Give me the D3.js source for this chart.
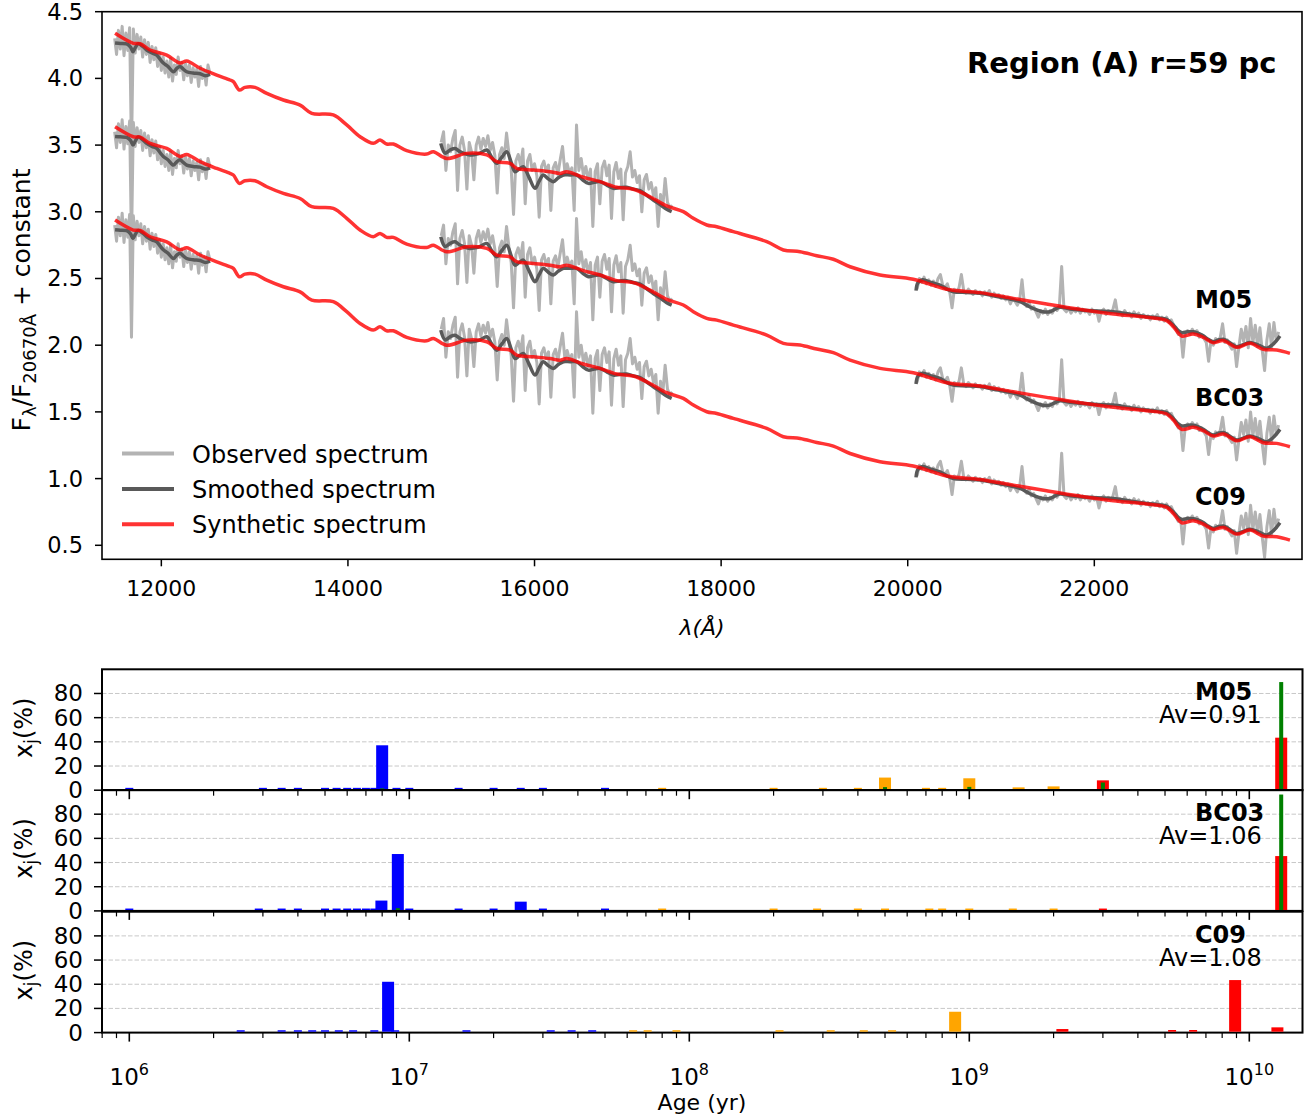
<!DOCTYPE html>
<html><head><meta charset="utf-8">
<script src="https://cdn.jsdelivr.net/npm/d3@7"></script>
<style>body{margin:0;background:#fff} svg{display:block} text{font-family:"DejaVu Sans",sans-serif;fill:#000}</style>
</head><body><svg id="c" width="1311" height="1120"></svg>
<script>
// ---------------- DATA ----------------
const modelNames = ["M05", "BC03", "C09"];
const modelOffsets = [0, -0.7, -1.4];          // "+ constant" shifts
const avLabels = ["Av=0.91", "Av=1.06", "Av=1.08"];
const specXTicks = [12000, 14000, 16000, 18000, 20000, 22000];
const specYTicks = [0.5, 1.0, 1.5, 2.0, 2.5, 3.0, 3.5, 4.0, 4.5];
const barYTicks = [0, 20, 40, 60, 80];
const ageDecades = [1e6, 1e7, 1e8, 1e9, 1e10];
const legendLabels = ["Observed spectrum", "Smoothed spectrum", "Synthetic spectrum"];

// observed spectrum (M05 level), [lambda, flux]
const obsJ = [[11500,4.30],[11520,4.18],[11540,4.36],[11560,4.22],[11580,4.39],[11600,4.17],[11620,4.34],[11640,4.21],[11660,4.38],[11680,3.46],[11700,4.37],[11720,4.19],[11740,4.33],[11760,4.22],[11780,4.31],[11800,4.16],[11820,4.29],[11840,4.18],[11860,4.27],[11880,4.12],[11900,4.24],[11920,4.14],[11940,4.23],[11960,4.09],[11980,4.19],[12000,4.06],[12020,4.16],[12040,4.04],[12060,4.13],[12080,4.01],[12100,4.15],[12120,3.98],[12140,4.10],[12160,4.03],[12180,4.16],[12200,4.06],[12220,4.12],[12240,3.99],[12260,4.11],[12280,4.02],[12300,4.10],[12320,3.97],[12340,4.08],[12360,4.01],[12380,4.07],[12400,3.94],[12420,4.09],[12440,4.00],[12460,4.06],[12480,3.95],[12500,4.10],[12520,4.04]];
const obsH = [[15000,3.52],[15025,3.60],[15050,3.31],[15075,3.50],[15100,3.45],[15125,3.55],[15150,3.61],[15175,3.16],[15200,3.50],[15225,3.56],[15250,3.46],[15275,3.17],[15300,3.52],[15325,3.45],[15350,3.24],[15375,3.50],[15400,3.56],[15425,3.47],[15450,3.55],[15475,3.49],[15500,3.57],[15525,3.46],[15550,3.52],[15575,3.42],[15600,3.14],[15625,3.43],[15650,3.48],[15675,3.40],[15700,3.59],[15725,3.44],[15750,3.32],[15775,2.98],[15800,3.38],[15825,3.43],[15850,3.35],[15875,3.47],[15900,3.06],[15925,3.38],[15950,3.43],[15975,3.31],[16000,3.36],[16025,3.27],[16050,2.96],[16075,3.34],[16100,3.38],[16125,3.30],[16150,3.35],[16175,3.01],[16200,3.33],[16225,3.37],[16250,3.28],[16275,3.39],[16300,3.49],[16325,3.30],[16350,3.36],[16375,3.29],[16400,3.33],[16425,3.01],[16450,3.65],[16475,3.31],[16500,3.40],[16525,3.27],[16550,3.34],[16575,3.24],[16600,3.32],[16625,2.89],[16650,3.30],[16675,3.36],[16700,3.06],[16725,3.33],[16750,3.38],[16775,3.27],[16800,3.35],[16825,2.95],[16850,3.30],[16875,3.37],[16900,3.25],[16925,3.32],[16950,2.94],[16975,3.29],[17000,3.34],[17025,3.45],[17050,3.26],[17075,3.31],[17100,3.22],[17125,3.27],[17150,3.00],[17175,3.24],[17200,3.28],[17225,3.17],[17250,3.22],[17275,3.12],[17300,3.18],[17325,2.89],[17350,3.13],[17375,3.04],[17400,3.25],[17425,3.07],[17450,3.03],[17475,3.05]];
const obsK = [[20100,2.42],[20125,2.50],[20150,2.47],[20175,2.51],[20200,2.46],[20225,2.49],[20250,2.45],[20275,2.48],[20300,2.44],[20325,2.50],[20350,2.53],[20375,2.45],[20400,2.43],[20425,2.46],[20450,2.40],[20475,2.28],[20500,2.42],[20525,2.40],[20550,2.43],[20575,2.53],[20600,2.41],[20625,2.39],[20650,2.42],[20675,2.40],[20700,2.38],[20725,2.41],[20750,2.39],[20775,2.40],[20800,2.37],[20825,2.40],[20850,2.38],[20875,2.41],[20900,2.36],[20925,2.39],[20950,2.37],[20975,2.38],[21000,2.35],[21025,2.37],[21050,2.34],[21075,2.36],[21100,2.31],[21125,2.35],[21150,2.33],[21175,2.30],[21200,2.34],[21225,2.49],[21250,2.31],[21275,2.29],[21300,2.32],[21325,2.27],[21350,2.29],[21375,2.25],[21400,2.21],[21425,2.26],[21450,2.24],[21475,2.27],[21500,2.23],[21525,2.26],[21550,2.24],[21575,2.28],[21600,2.26],[21625,2.29],[21650,2.59],[21675,2.27],[21700,2.25],[21725,2.28],[21750,2.24],[21775,2.27],[21800,2.25],[21825,2.28],[21850,2.24],[21875,2.27],[21900,2.25],[21925,2.26],[21950,2.23],[21975,2.27],[22000,2.24],[22025,2.26],[22050,2.18],[22075,2.25],[22100,2.27],[22125,2.23],[22150,2.26],[22175,2.24],[22200,2.27],[22225,2.34],[22250,2.23],[22275,2.25],[22300,2.22],[22325,2.26],[22350,2.23],[22375,2.24],[22400,2.21],[22425,2.25],[22450,2.22],[22475,2.24],[22500,2.20],[22525,2.23],[22550,2.21],[22575,2.22],[22600,2.19],[22625,2.22],[22650,2.20],[22675,2.23],[22700,2.19],[22725,2.21],[22750,2.18],[22775,2.21],[22800,2.17],[22825,2.19],[22850,2.15],[22875,2.12],[22900,2.08],[22925,2.10],[22950,1.91],[22975,2.09],[23000,2.11],[23025,2.08],[23050,2.12],[23075,2.09],[23100,2.11],[23125,2.06],[23150,2.08],[23175,2.05],[23200,2.02],[23225,1.88],[23250,2.03],[23275,2.00],[23300,2.05],[23325,2.03],[23350,2.06],[23375,2.16],[23400,2.02],[23425,2.04],[23450,2.00],[23475,1.97],[23500,2.01],[23525,1.84],[23550,1.99],[23575,2.12],[23600,2.03],[23625,2.14],[23650,1.98],[23675,2.20],[23700,2.02],[23725,2.15],[23750,1.99],[23775,2.13],[23800,1.96],[23825,1.81],[23850,2.04],[23875,2.16],[23900,1.98],[23925,2.17],[23950,2.03],[23975,2.10]];

// smoothed spectrum (M05 level)
const smoothJ = [[11504,4.265],[11560,4.262],[11629,4.258],[11670,4.235],[11696,4.20],[11720,4.23],[11753,4.26],[11800,4.24],[11843,4.213],[11900,4.19],[11951,4.175],[11990,4.14],[12021,4.115],[12070,4.09],[12129,4.05],[12165,4.075],[12200,4.09],[12235,4.07],[12272,4.05],[12340,4.04],[12415,4.035],[12470,4.02],[12522,4.03]];
const smoothH = [[14995,3.513],[15041,3.44],[15094,3.463],[15148,3.475],[15190,3.455],[15237,3.44],[15309,3.425],[15360,3.43],[15416,3.44],[15488,3.463],[15540,3.41],[15595,3.363],[15650,3.41],[15702,3.45],[15750,3.37],[15791,3.30],[15835,3.32],[15880,3.338],[15940,3.26],[16005,3.176],[16050,3.23],[16094,3.276],[16150,3.245],[16201,3.226],[16255,3.255],[16309,3.276],[16380,3.276],[16452,3.276],[16515,3.24],[16577,3.213],[16640,3.222],[16702,3.226],[16775,3.20],[16845,3.176],[16915,3.182],[16988,3.184],[17060,3.17],[17131,3.158],[17200,3.125],[17273,3.088],[17345,3.055],[17417,3.019],[17470,3.001]];
const smoothK = [[20089,2.409],[20110,2.469],[20160,2.49],[20250,2.47],[20346,2.451],[20420,2.42],[20488,2.401],[20630,2.395],[20775,2.39],[20920,2.37],[21061,2.351],[21204,2.326],[21300,2.29],[21383,2.264],[21450,2.25],[21525,2.251],[21580,2.27],[21632,2.284],[21740,2.272],[21847,2.264],[22030,2.256],[22204,2.251],[22380,2.232],[22561,2.214],[22680,2.204],[22776,2.194],[22847,2.151],[22900,2.11],[22937,2.094],[23000,2.10],[23061,2.10],[23110,2.09],[23168,2.07],[23220,2.045],[23275,2.026],[23330,2.04],[23383,2.045],[23450,2.02],[23526,1.989],[23600,2.005],[23669,2.02],[23760,2.0],[23848,1.977],[23920,2.01],[23990,2.069]];

// synthetic spectrum (M05 level)
const synth = [[11504,4.338],[11700,4.263],[11772,4.26],[11879,4.213],[12058,4.175],[12200,4.115],[12272,4.13],[12415,4.076],[12594,4.025],[12736,3.988],[12772,3.976],[12836,3.913],[12897,3.933],[13004,3.933],[13130,3.888],[13308,3.838],[13487,3.80],[13612,3.738],[13843,3.726],[13987,3.651],[14130,3.563],[14272,3.513],[14344,3.538],[14416,3.508],[14487,3.508],[14630,3.458],[14845,3.433],[14915,3.45],[15059,3.40],[15273,3.438],[15488,3.426],[15595,3.376],[15737,3.363],[15809,3.326],[15987,3.313],[16166,3.30],[16273,3.288],[16345,3.30],[16523,3.259],[16702,3.226],[16881,3.184],[17059,3.169],[17238,3.113],[17417,3.044],[17595,3.001],[17702,2.951],[17846,2.901],[17953,2.888],[18131,2.851],[18489,2.776],[18667,2.714],[18846,2.701],[19025,2.671],[19203,2.644],[19382,2.588],[19703,2.526],[20060,2.494],[20418,2.419],[20775,2.394],[21132,2.351],[21489,2.309],[21847,2.269],[22204,2.234],[22561,2.209],[22776,2.184],[22847,2.139],[22937,2.069],[23061,2.084],[23168,2.059],[23275,2.019],[23383,2.034],[23526,1.984],[23669,2.014],[23811,1.969],[23955,1.964],[24097,1.939]];

// light fractions x_j (%) per age (yr)
const barsM05 = [[1e6,1.2],[3e6,1.2],[3.5e6,1.2],[4e6,1.2],[5e6,1.2],[5.5e6,1.2],[6e6,1.2],[6.5e6,1.2],[7e6,1.2],[7.5e6,1.2],[8e6,36.4],[9e6,1.2],[1e7,1.2],[1.5e7,1.2],[2e7,1.2],[2.5e7,1.2],[3e7,1.2],[5e7,1.2],[8e7,1.2],[2e8,1.2],[3e8,1.2],[4e8,1.2],[5e8,9.7],[7e8,1.2],[8e8,1.2],[1e9,9.1],[1.5e9,1.6],[2e9,2.4],[3e9,7.4],[1.3e10,42.7]];
const barsBC03 = [[1e6,1.2],[2.9e6,1.2],[3.5e6,1.2],[4e6,1.2],[5e6,1.2],[5.5e6,1.2],[6e6,1.2],[6.5e6,1.2],[7e6,1.2],[7.5e6,1.2],[7.95e6,7.8],[9.1e6,46.3],[1e7,1.2],[1.5e7,1.2],[2e7,1.2],[2.5e7,6.9],[3e7,1.2],[5e7,1.2],[8e7,1.2],[2e8,1.2],[2.86e8,1.2],[4e8,1.2],[5e8,1.2],[7.2e8,1.2],[8e8,1.2],[1e9,1.2],[1.43e9,1.2],[2e9,1.2],[3e9,1.2],[1.3e10,44.6]];
const barsC09 = [[2.5e6,1.2],[3.5e6,1.2],[4e6,1.2],[4.5e6,1.2],[5e6,1.2],[5.6e6,1.2],[6.3e6,1.2],[7.5e6,1.2],[8.9e6,1.2],[8.4e6,41.3],[1.6e7,1.2],[3.2e7,1.2],[3.8e7,1.2],[4.5e7,1.2],[6.3e7,1.2],[7.1e7,1.2],[9e7,1.2],[2.1e8,1.2],[3.2e8,1.2],[4.2e8,1.2],[5.3e8,1.2],[8.9e8,16.5],[2.15e9,2.2],[5.3e9,1.4],[6.3e9,1.4],[8.9e9,42.7],[1.26e10,3.6]];
// mass fractions (green)
const massM05 = [[8e6,0.8],[5e8,1.8],[1e9,2.0],[3e9,5.6],[1.3e10,88.7]];
const massBC03 = [[9.1e6,1.5],[1.3e10,95.5]];
const massC09 = [];

// ---------------- DRAW ----------------
const svg = d3.select("#c");

// ---- top panel ----
const T = {l: 102, r: 1302, t: 11.7, b: 559.3};
const xS = d3.scaleLinear().domain([11364, 24226]).range([T.l, T.r]);
const yS = d3.scaleLinear().domain([0.395, 4.5]).range([T.b, T.t]);
const line = d3.line().x(d => xS(d[0])).y(d => yS(d[1]));
const smoothLine = d3.line().x(d => xS(d[0])).y(d => yS(d[1])).curve(d3.curveCatmullRom.alpha(0.5));

const gTop = svg.append("g");
gTop.append("defs").append("clipPath").attr("id", "clipTop")
  .append("rect").attr("x", T.l).attr("y", T.t).attr("width", T.r - T.l).attr("height", T.b - T.t);
const plot = gTop.append("g").attr("clip-path", "url(#clipTop)");

const shift = (arr, o) => arr.map(d => [d[0], d[1] + o]);
modelOffsets.forEach(o => {
  [obsJ, obsH, obsK].forEach(seg => plot.append("path").attr("d", line(shift(seg, o)))
    .attr("fill", "none").attr("stroke", "#b3b3b3").attr("stroke-width", 3).attr("stroke-linejoin", "round"));
});
modelOffsets.forEach(o => {
  [smoothJ, smoothH, smoothK].forEach(seg => plot.append("path").attr("d", smoothLine(shift(seg, o)))
    .attr("fill", "none").attr("stroke", "#595959").attr("stroke-width", 3.5).attr("stroke-linejoin", "round"));
});
modelOffsets.forEach(o => {
  plot.append("path").attr("d", smoothLine(shift(synth, o)))
    .attr("fill", "none").attr("stroke", "#ff0000").attr("stroke-opacity", 0.8).attr("stroke-width", 3.5).attr("stroke-linejoin", "round");
});

// frame
gTop.append("rect").attr("x", T.l).attr("y", T.t).attr("width", T.r - T.l).attr("height", T.b - T.t)
  .attr("fill", "none").attr("stroke", "#000").attr("stroke-width", 1.6);
// ticks
specXTicks.forEach(v => {
  const x = xS(v);
  gTop.append("line").attr("x1", x).attr("x2", x).attr("y1", T.b).attr("y2", T.b + 7).attr("stroke", "#000").attr("stroke-width", 1.5);
  gTop.append("text").attr("x", x).attr("y", T.b + 37).attr("text-anchor", "middle").attr("font-size", 22).text(v);
});
specYTicks.forEach(v => {
  const y = yS(v);
  gTop.append("line").attr("x1", T.l - 7).attr("x2", T.l).attr("y1", y).attr("y2", y).attr("stroke", "#000").attr("stroke-width", 1.5);
  gTop.append("text").attr("x", T.l - 19).attr("y", y + 8).attr("text-anchor", "end").attr("font-size", 22.5).text(v.toFixed(1));
});
// axis labels
gTop.append("text").attr("x", 702).attr("y", 635).attr("text-anchor", "middle").attr("font-size", 22)
  .attr("font-style", "italic").text("λ(Å)");
const yl = gTop.append("text").attr("transform", "translate(30,300) rotate(-90)").attr("text-anchor", "middle").attr("font-size", 25);
yl.append("tspan").text("F");
yl.append("tspan").attr("font-size", 18).attr("dy", 6).text("λ");
yl.append("tspan").attr("dy", -6).text("/F");
yl.append("tspan").attr("font-size", 18).attr("dy", 6).text("20670Å");
yl.append("tspan").attr("dy", -6).text(" + constant");

// title & model labels
gTop.append("text").attr("x", 967).attr("y", 73).attr("font-size", 29).attr("font-weight", "bold").text("Region (A) r=59 pc");
const labelY = [308, 406, 505];
modelNames.forEach((n, i) => gTop.append("text").attr("x", 1195).attr("y", labelY[i])
  .attr("font-size", 24).attr("font-weight", "bold").text(n));

// legend
const legColors = ["#b3b3b3", "#595959", "rgba(255,0,0,0.8)"];
const legY = [453.5, 489, 524.3];
legendLabels.forEach((t, i) => {
  gTop.append("line").attr("x1", 122).attr("x2", 174).attr("y1", legY[i]).attr("y2", legY[i])
    .attr("stroke", legColors[i]).attr("stroke-width", 4);
  gTop.append("text").attr("x", 192).attr("y", legY[i] + 9).attr("font-size", 24).text(t);
});

// ---- bottom panels ----
const B = {l: 102, r: 1302.5};
const panelTops = [669.3, 790, 911.7];
const panelH = 120.9;
const xB = d3.scaleLog().domain([Math.pow(10, 5.9025), Math.pow(10, 10.19)]).range([B.l, B.r]);
const barSets = [barsM05, barsBC03, barsC09];
const massSets = [massM05, massBC03, massC09];
const barColor = a => a < 6e7 ? "#0000ff" : (a < 2.1e9 ? "#ffa500" : "#ff0000");

const minorTicks = [];
for (let e = 5; e <= 10; e++) for (let k = 1; k <= 9; k++) {
  const v = k * Math.pow(10, e);
  if (v > xB.domain()[0] && v < xB.domain()[1]) minorTicks.push({v, major: k === 1});
}

panelTops.forEach((top, i) => {
  const g = svg.append("g");
  const yB = d3.scaleLinear().domain([0, 100]).range([top + panelH, top]);
  const base = yB(0) - 0.9; // bars stand on the axis line
  // grid
  barYTicks.forEach(v => {
    g.append("line").attr("x1", B.l).attr("x2", B.r).attr("y1", yB(v)).attr("y2", yB(v))
      .attr("stroke", "#c8c8c8").attr("stroke-width", 1).attr("stroke-dasharray", "4.5,2");
  });
  // frame
  g.append("rect").attr("x", B.l).attr("y", top).attr("width", B.r - B.l).attr("height", panelH)
    .attr("fill", "none").attr("stroke", "#000").attr("stroke-width", 2);
  // bars
  barSets[i].forEach(d => {
    const w = d[1] >= 1.5 ? 12 : 8;
    const x = xB(d[0]);
    const h = yB(0) - yB(d[1]);
    g.append("rect").attr("x", x - w / 2).attr("width", w).attr("y", base - h).attr("height", h)
      .attr("fill", barColor(d[0]));
  });
  massSets[i].forEach(d => {
    const x = xB(d[0]);
    const h = yB(0) - yB(d[1]);
    g.append("rect").attr("x", x - 2).attr("width", 4).attr("y", base - h).attr("height", h)
      .attr("fill", "#008000");
  });
  // x ticks
  minorTicks.forEach(t => {
    const x = xB(t.v);
    g.append("line").attr("x1", x).attr("x2", x).attr("y1", top + panelH).attr("y2", top + panelH + (t.major ? 9 : 5.5))
      .attr("stroke", "#000").attr("stroke-width", t.major ? 1.6 : 1.2);
  });
  // y ticks
  barYTicks.forEach(v => {
    g.append("line").attr("x1", B.l - 8).attr("x2", B.l).attr("y1", yB(v)).attr("y2", yB(v)).attr("stroke", "#000").attr("stroke-width", 1.5);
    g.append("text").attr("x", B.l - 19).attr("y", yB(v) + 8).attr("text-anchor", "end").attr("font-size", 23).text(v);
  });
  // y label
  const ylab = g.append("text").attr("transform", `translate(32,${top + panelH / 2 - 2}) rotate(-90)`)
    .attr("text-anchor", "middle").attr("font-size", 24);
  ylab.append("tspan").text("x");
  ylab.append("tspan").attr("font-size", 17).attr("dy", 5).text("j");
  ylab.append("tspan").attr("dy", -5).text("(%)");
  // labels
  g.append("text").attr("x", 1195).attr("y", top + 31).attr("font-size", 24).attr("font-weight", "bold").text(modelNames[i]);
  g.append("text").attr("x", 1159).attr("y", top + 54).attr("font-size", 24).text(avLabels[i]);
});

// decade labels
const lastBottom = panelTops[2] + panelH;
ageDecades.forEach(v => {
  const t = svg.append("text").attr("x", xB(v)).attr("y", lastBottom + 52).attr("text-anchor", "middle").attr("font-size", 23);
  t.append("tspan").text("10");
  t.append("tspan").attr("font-size", 16).attr("dy", -10).text(Math.round(Math.log10(v)));
});
svg.append("text").attr("x", 702).attr("y", 1110).attr("text-anchor", "middle").attr("font-size", 22).text("Age (yr)");
</script></body></html>
